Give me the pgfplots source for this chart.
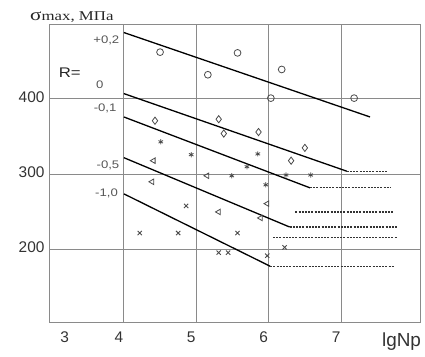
\documentclass[border=0pt]{standalone}
\usepackage{fontspec}
\setmainfont{Liberation Sans}
\newfontfamily\sfw{Liberation Sans}[FakeStretch=1.2]
\newfontfamily\serw{Liberation Serif}[FakeStretch=1.25]
\usepackage{pgfplots}
\pgfplotsset{compat=1.18}
\definecolor{gridc}{HTML}{8A8A8A}
\definecolor{markc}{HTML}{4A4A4A}
\definecolor{labc}{HTML}{555555}
\begin{document}
\begin{tikzpicture}
\useasboundingbox (0,0) rectangle (425bp,357bp);
\begin{axis}[
  at={(50bp,35bp)}, anchor=south west,
  scale only axis, width=370bp, height=297bp,
  xmin=2.98, xmax=8.09, ymin=104, ymax=498,
  xtick={4,5,6,7}, ytick={200,300,400},
  extra x ticks={3.25}, extra x tick labels={3},
  extra x tick style={grid=none},
  grid=major,
  major grid style={gridc, line width=1bp},
  axis line style={gridc, line width=1bp},
  major tick length=0pt,
  /pgf/number format/assume math mode=true,
  x tick label style={font=\fontsize{15.5}{15.5}\selectfont, text=black!80, yshift=-6bp, xshift=-5bp},
  y tick label style={font=\fontsize{15.5}{15.5}\selectfont, text=black!80, xshift=-2bp, yshift=2bp},
  clip=false,
]
% regression lines
\addplot[black, line width=1.3bp] coordinates {(4,488) (7.40,376)};
\addplot[black, line width=1.3bp] coordinates {(4,407) (7.08,304)};
\addplot[black, line width=1.3bp] coordinates {(4,376) (6.57,282)};
\addplot[black, line width=1.3bp] coordinates {(4,322) (6.29,230)};
\addplot[black, line width=1.3bp] coordinates {(4,274) (6.02,178)};
% dotted endurance limits
\addplot[black!80, line width=1.3bp, dash pattern=on 2bp off 1.2bp] coordinates {(7.08,304) (7.65,304)};
\addplot[black!80, line width=1.3bp, dash pattern=on 2bp off 1.2bp] coordinates {(6.57,282) (7.68,282)};
\addplot[black!80, line width=1.3bp, dash pattern=on 2bp off 1.2bp] coordinates {(6.37,250) (7.73,250)};
\addplot[black!80, line width=1.3bp, dash pattern=on 2bp off 1.2bp] coordinates {(6.29,230) (7.77,230)};
\addplot[black!80, line width=1.3bp, dash pattern=on 2bp off 1.2bp] coordinates {(6.06,216) (7.77,216)};
\addplot[black!80, line width=1.3bp, dash pattern=on 2bp off 1.2bp] coordinates {(6.02,178) (7.74,178)};
% R = +0.2 circles
\addplot[only marks, mark=o, mark size=3.4bp, mark options={markc, line width=0.8bp}] coordinates {
(4.50,462) (5.16,432) (5.57,461) (6.18,439) (6.03,401) (7.18,401)};
% R = 0 diamonds
\addplot[only marks, mark=diamond, mark size=3.6bp, mark options={markc, line width=0.8bp}] coordinates {
(4.43,371) (5.31,373) (5.38,354) (5.86,356) (6.50,335) (6.31,318)};
% R = -0.1 stars
\addplot[only marks, mark=asterisk, mark size=2.6bp, mark options={markc, line width=0.8bp}] coordinates {
(4.51,343) (4.93,326) (5.85,327) (5.70,310) (5.49,298) (6.24,299) (6.58,299) (5.96,286)};
% R = -0.5 triangles
\addplot[only marks, mark=triangle, mark size=3.2bp, mark options={markc, line width=0.8bp, rotate=90}] coordinates {
(4.41,318) (4.39,290) (5.15,298) (5.31,250) (5.98,261) (5.89,242)};
% R = -1.0 crosses
\addplot[only marks, mark=x, mark size=3bp, mark options={markc, line width=0.9bp}] coordinates {
(4.22,222) (4.75,222) (4.86,258) (5.57,222) (5.31,196) (5.44,196) (5.98,192) (6.22,203)};
% labels
\node[anchor=base west, inner sep=0pt, text=black!85, font=\sfw\fontsize{14}{14}\selectfont] at (axis cs:3.10,429) {R=};
\node[anchor=base east, text=labc, font=\sfw\fontsize{11}{11}\selectfont, inner sep=0pt] at (axis cs:3.94,474) {+0,2};
\node[anchor=base east, text=labc, font=\sfw\fontsize{11}{11}\selectfont, inner sep=0pt] at (axis cs:3.72,414) {0};
\node[anchor=base east, text=labc, font=\sfw\fontsize{11}{11}\selectfont, inner sep=0pt] at (axis cs:3.90,383) {-0,1};
\node[anchor=base east, text=labc, font=\sfw\fontsize{11}{11}\selectfont, inner sep=0pt] at (axis cs:3.94,308) {-0,5};
\node[anchor=base east, text=labc, font=\sfw\fontsize{11}{11}\selectfont, inner sep=0pt] at (axis cs:3.92,271) {-1,0};
\node[anchor=base west, inner sep=0pt, text=black!85, font=\serw\fontsize{13.5}{13.5}\selectfont] at (axis description cs:-0.054,1.0135) {{\fontsize{17}{17}\selectfont σ}max, МПа};
\node[anchor=base west, inner sep=0pt, text=black!80, font=\fontsize{19}{19}\selectfont] at (axis description cs:0.897,-0.084) {lgNp};
\end{axis}
\end{tikzpicture}
\end{document}
